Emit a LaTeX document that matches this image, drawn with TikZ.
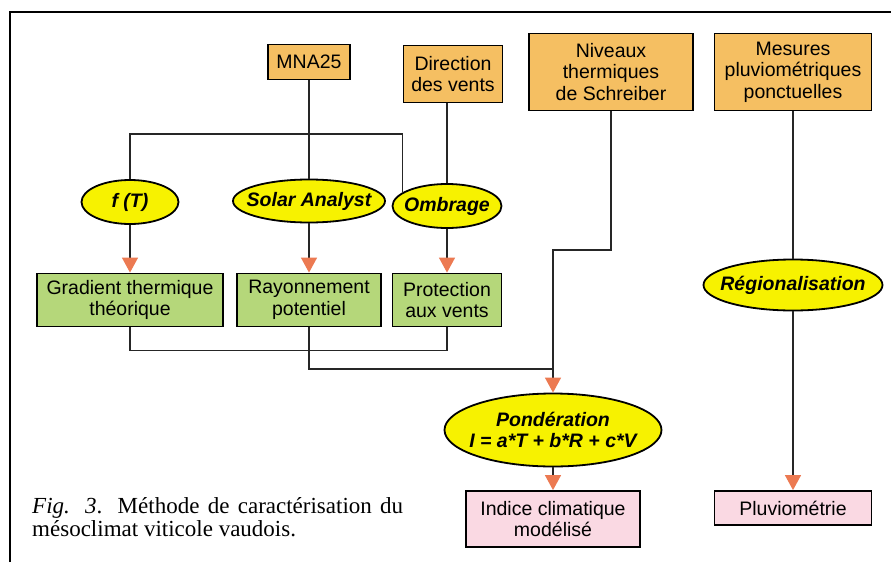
\documentclass[tikz,border=0pt]{standalone}
\usepackage{fontspec}
\setmainfont{Liberation Serif}
\newfontfamily\arialfont{Liberation Sans}
\usetikzlibrary{shapes.geometric,arrows.meta}
\definecolor{inputc}{HTML}{F5BF62}
\definecolor{resultc}{HTML}{B5D77A}
\definecolor{processc}{HTML}{F7F200}
\definecolor{finalc}{HTML}{FAD9E3}
\definecolor{arrowc}{HTML}{EC7A52}
% text that does not widen the ellipse around it
\newcommand{\tight}[1]{\makebox[0pt]{#1}}
\begin{document}
\begin{tikzpicture}[x=1pt, y=-1pt,
        box/.style={draw=black, line width=1.8pt, inner sep=0pt, align=center,
            font=\arialfont\fontsize{19.5}{21.5}\selectfont},
        input/.style={box, fill=inputc},
        result/.style={box, fill=resultc},
        final/.style={box, fill=finalc},
        process/.style={ellipse, draw=black, line width=1.8pt, fill=processc, inner sep=0pt,
            align=center, font=\arialfont\bfseries\itshape\fontsize{19.5}{21.5}\selectfont},
        link/.style={line width=1.3pt, black!85},
        flow/.style={link, -{Triangle[width=16pt, length=15pt, color=arrowc]}}]
        \useasboundingbox (0,0) rectangle (891,562);
        % Frame: only left and top sides are visible
        \draw[line width=1.3pt] (10,562) -- (10,12) -- (891,12);

        % Inputs
        \node[input, minimum width=82pt, minimum height=35pt] (mna) at (309,62) {MNA25};
        \node[input, minimum width=99pt, minimum height=57pt] (dir) at (453,74) {Direction\\des vents};
        \node[input, minimum width=164pt, minimum height=77pt] (schr) at (611,72) {Niveaux\\thermiques\\de Schreiber};
        \node[input, minimum width=157pt, minimum height=77pt] (mes) at (793,72) {Mesures\\pluviométriques\\ponctuelles};

        % Processes
        \node[process, minimum width=97pt, minimum height=44pt] (ft) at (130,202) {\tight{f (T)}};
        \node[process, minimum width=152pt, minimum height=43pt] (solar) at (309,201) {\tight{Solar Analyst}};
        \node[process, minimum width=109pt, minimum height=44pt] (omb) at (447,206) {\tight{Ombrage}};
        \node[process, minimum width=179pt, minimum height=51pt] (reg) at (793,285) {\tight{Régionalisation}};
        \node[process, minimum width=217pt, minimum height=73pt] (pond) at (553,430) {\tight{Pondération}\\\tight{I = a*T + b*R + c*V}};

        % Intermediate results
        \node[result, minimum width=186pt, minimum height=53pt] (grad) at (130,300) {Gradient thermique\\théorique};
        \node[result, minimum width=144pt, minimum height=53pt] (ray) at (309,300) {Rayonnement\\potentiel};
        \node[result, minimum width=109pt, minimum height=53pt] (prot) at (447,300) {Protection\\aux vents};

        % Outputs
        \node[final, minimum width=174pt, minimum height=56pt] (ind) at (553,519) {Indice climatique\\modélisé};
        \node[final, minimum width=157pt, minimum height=34pt] (pluv) at (793,508) {Pluviométrie};

        % Bends
        \coordinate (split) at (309,134);
        \coordinate (sbend) at (553,250);
        \coordinate (rbend) at (553,369);

        % Edges
        \draw[link] (mna.south) -- (solar.north);
        \draw[link] (ft.north) |- (split) -| (omb.163);
        \draw[link] (dir.south -| omb.north) -- (omb.north);
        \draw[link] (mes.south) -- (reg.north);

        \draw[flow] (ft.south) -- (grad.north);
        \draw[flow] (solar.south) -- (ray.north);
        \draw[flow] (omb.south) -- (prot.north);

        \draw[link] (grad.south) -- ++(0,23) -| (prot.south);
        \draw[link] (ray.south) |- (rbend);
        \draw[flow] (schr.south) |- (sbend) -- (pond.north);

        \draw[flow] (pond.south) -- (ind.north);
        \draw[flow] (reg.south) -- (pluv.north);

        % Caption
        \node[anchor=north west, inner sep=0pt, text width=371pt, align=justify,
            font=\fontsize{23}{23}\selectfont] (caption) at (32,497)
            {\hyphenpenalty=10000 \textit{Fig. 3}. Méthode de caractérisation du\linebreak mésoclimat viticole vaudois.};
\end{tikzpicture}
\end{document}
